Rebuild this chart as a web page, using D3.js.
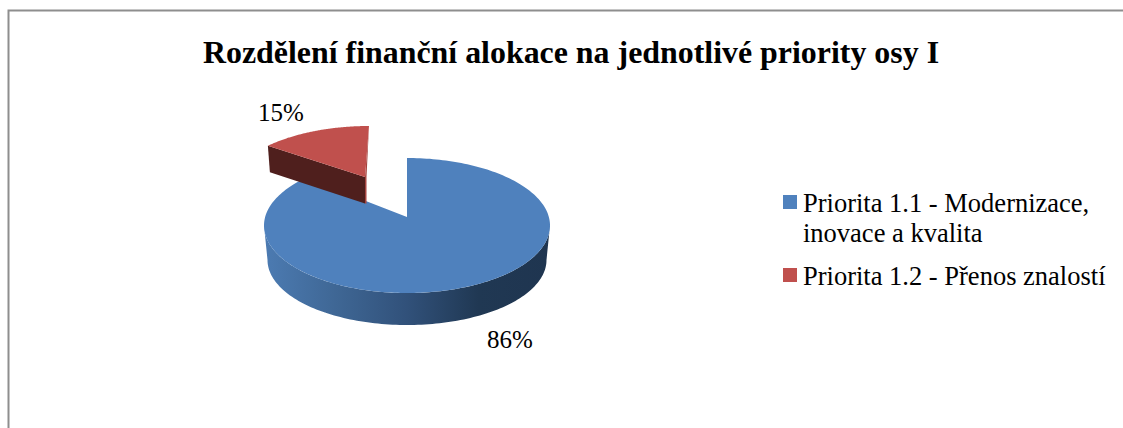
<!DOCTYPE html>
<html>
<head>
<meta charset="utf-8">
<script src="https://cdn.jsdelivr.net/npm/d3@7/dist/d3.min.js"></script>
<style>
html,body{margin:0;padding:0;background:#fff}
svg{display:block}
text{font-family:"Liberation Serif",serif;fill:#000}
</style>
</head>
<body>
<svg id="chart" width="1123" height="428"></svg>
<script>
const chartTitle = "Rozdělení finanční alokace na jednotlivé priority osy I";
const categories = ["Priorita 1.1 - Modernizace, inovace a kvalita", "Priorita 1.2 - Přenos znalostí"];
const legendLines = [["Priorita 1.1 - Modernizace,", "inovace a kvalita"], ["Priorita 1.2 - Přenos znalostí"]];
// Slice sweep; the printed percentages differ and are kept as printed.
const sliceShares = [87.5, 12.5];
const printedLabels = ["86%", "15%"];
const colors = ["#4f81bd", "#c0504d"];

const W = 1123, H = 428;
const svg = d3.select("#chart");

// gradient for the outer wall
const defs = svg.append("defs");
const grad = defs.append("linearGradient").attr("id", "wall").attr("x1", 0).attr("x2", 1).attr("y1", 0).attr("y2", 0);
[[0, "#4c7bb2"], [0.25, "#3f6795"], [0.5, "#31517a"], [0.75, "#203853"], [1, "#1f3550"]]
  .forEach(([o, c]) => grad.append("stop").attr("offset", o).attr("stop-color", c));

// frame
svg.append("path").attr("d", d3.line()([[8.5, H], [8.5, 10.5], [W, 10.5]]))
  .attr("fill", "none").attr("stroke", "#8e8e8e").attr("stroke-width", 2);

// title
svg.append("text").attr("x", 571).attr("y", 63).attr("text-anchor", "middle")
  .attr("font-size", 31.9).attr("font-weight", "bold").text(chartTitle);

// pie angles, clockwise from 12 o'clock
const arcs = d3.pie().sort(null).value(d => d)(sliceShares);
const line = d3.line();
const ellipse = (cx, cy, rx, ry) => {
  const x = d3.scaleLinear([-1, 1], [cx - rx, cx + rx]);
  const y = d3.scaleLinear([-1, 1], [cy - ry, cy + ry]);
  return a => [x(Math.sin(a)), y(-Math.cos(a))];
};
const sweep = (proj, a0, a1, n = 120) => d3.range(n + 1).map(i => proj(a0 + (a1 - a0) * i / n));

// main slice
const mainTop = ellipse(407, 225.5, 143, 67.5);
const mainBase = ellipse(407, 260, 139.5, 65);
const mainApex = [407, 217];
const a = arcs[0];
svg.append("path")
  .attr("d", line([...sweep(mainTop, Math.PI / 2, 3 * Math.PI / 2), ...sweep(mainBase, 3 * Math.PI / 2, Math.PI / 2)]) + "Z")
  .attr("fill", "url(#wall)");
svg.append("path")
  .attr("d", line([mainApex, ...sweep(mainTop, a.startAngle, a.endAngle, 240)]) + "Z")
  .attr("fill", colors[0]);

// exploded slice
const redTop = ellipse(369, 193.5, 143, 67.5);
const redApex = [365, 177];
const drop = 26.5;
const b = arcs[1];
const corner = redTop(b.startAngle);
const tip = redTop(b.endAngle);
svg.append("path")
  .attr("d", line([tip, [redApex[0] + 1.5, redApex[1]], [redApex[0] + 1.5, redApex[1] + drop], [redApex[0], redApex[1] + drop], redApex]) + "Z")
  .attr("fill", "#a5443f");
svg.append("path")
  .attr("d", line([redApex, corner, [corner[0] + 2, corner[1] + drop], [redApex[0], redApex[1] + drop]]) + "Z")
  .attr("fill", "#4f1f1d");
svg.append("path")
  .attr("d", line([redApex, ...sweep(redTop, b.startAngle, b.endAngle)]) + "Z")
  .attr("fill", colors[1]);

// percentage labels
const labelPos = [[487, 348], [258, 121]];
svg.selectAll("text.pct").data(printedLabels).join("text").attr("class", "pct")
  .attr("x", (d, i) => labelPos[i][0]).attr("y", (d, i) => labelPos[i][1])
  .attr("font-size", 25).text(d => d);

// legend
const legendY = [212, 285];
const lg = svg.selectAll("g.lg").data(categories).join("g").attr("class", "lg");
lg.append("rect").attr("x", 783).attr("y", (d, i) => legendY[i] - 17).attr("width", 14).attr("height", 14)
  .attr("fill", (d, i) => colors[i]);
lg.each(function (d, i) {
  legendLines[i].forEach((t, j) => {
    d3.select(this).append("text").attr("x", 803).attr("y", legendY[i] + j * 30)
      .attr("font-size", 26.5).text(t);
  });
});
</script>
</body>
</html>
